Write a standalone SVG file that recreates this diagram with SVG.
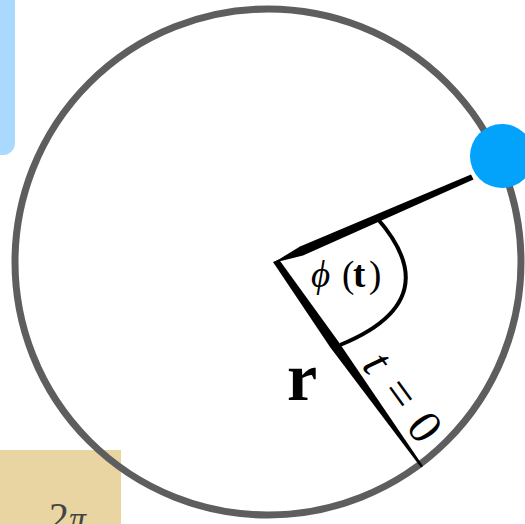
<svg xmlns="http://www.w3.org/2000/svg" width="525" height="524" viewBox="0 0 525 524">
<style>
.serif{font-family:"Liberation Serif","Times New Roman",serif;}
</style>
<rect width="525" height="524" fill="#fff"/>
<g id="blue-box"><rect x="-20" y="-20" width="35" height="175" rx="12" fill="#a9d9fe"/></g>
<g id="tan-box">
<rect x="-10" y="450" width="131" height="90" fill="#e9d5a1"/>
<text class="serif" x="49" y="530" font-size="40" fill="#444">2<tspan font-style="italic" font-size="34">π</tspan></text>
</g>
<g id="orbit"><circle cx="268" cy="262" r="253" fill="none" stroke="#5e5e5e" stroke-width="7"/></g>
<g id="connectors">
<path d="M273,263 L300,246.5 L471,174.5 L473.5,179.5 L303,255.5 Z" fill="#000"/>
<path d="M273,262 L279,259.5 L338,341 L423,466 L421,467.5 L330,347 Z" fill="#000"/>
<path d="M377,218 C405,250 438,305 340,345" fill="none" stroke="#000" stroke-width="4"/>
</g>
<g id="point"><circle cx="502" cy="156" r="32" fill="#03a3fb"/></g>
<g id="label-phi"><text class="serif" y="287" font-size="37"><tspan x="311" font-style="italic">ϕ</tspan><tspan x="342">(</tspan><tspan x="353" font-weight="bold">t</tspan><tspan x="369">)</tspan></text></g>
<g id="label-r"><text class="serif" x="287" y="400" font-size="68" font-weight="bold">r</text></g>
<g id="label-t0"><text class="serif" font-size="48" transform="translate(361,366) rotate(54)"><tspan x="0" font-style="italic">t</tspan><tspan x="32">=</tspan><tspan x="75">0</tspan></text></g>
</svg>
